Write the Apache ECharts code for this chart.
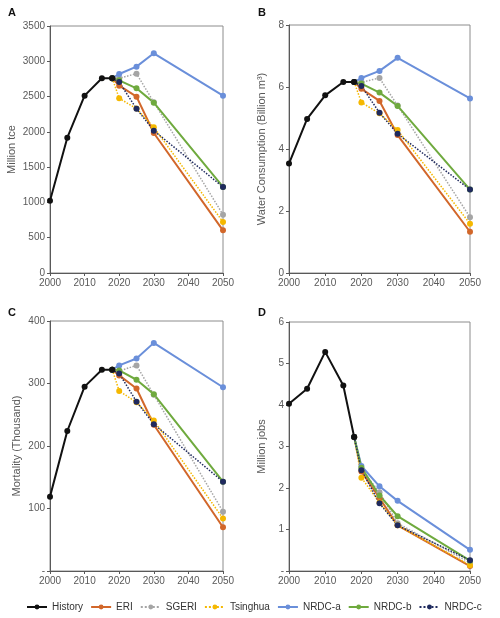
<!DOCTYPE html>
<html><head><meta charset="utf-8">
<script src="https://cdn.jsdelivr.net/npm/echarts@6/dist/echarts.min.js"></script>
<style>html,body{margin:0;padding:0;background:#fff}#c{width:500px;height:618px}</style>
</head><body><div id="c"></div>
<script>
// ---- data ----
var historyYears = [2000, 2005, 2010, 2015, 2018];
var scenarioYears = [2018, 2020, 2025, 2030, 2050];
var seriesNames = ['History', 'ERI', 'SGERI', 'Tsinghua', 'NRDC-a', 'NRDC-b', 'NRDC-c'];
var panelLetters = ['A', 'B', 'C', 'D'];
var yAxisNames = ['Million tce', 'Water Consumption (Billion m\u00b3)', 'Mortality (Thousand)', 'Million jobs'];
var yMax = [3500, 8, 400, 6];
var yInterval = [500, 2, 100, 1];
var xTicks = [2000, 2010, 2020, 2030, 2040, 2050];

// Panel A: coal consumption (Million tce)
var coalHistory = [1025, 1918, 2513, 2760, 2760];
var coalERI = [2760, 2655, 2499, 1984, 605];
var coalSGERI = [2760, 2760, 2825, 2420, 827];
var coalTsinghua = [2760, 2475, 2330, 2064, 723];
var coalNRDCa = [2760, 2820, 2924, 3113, 2513];
var coalNRDCb = [2760, 2730, 2617, 2414, 1219];
var coalNRDCc = [2760, 2706, 2328, 2017, 1219];

// Panel B: water consumption (Billion m3)
var waterHistory = [3.53, 4.97, 5.73, 6.16, 6.16];
var waterERI = [6.16, 5.94, 5.55, 4.45, 1.33];
var waterSGERI = [6.16, 6.15, 6.29, 5.40, 1.80];
var waterTsinghua = [6.16, 5.50, 5.15, 4.61, 1.59];
var waterNRDCa = [6.16, 6.29, 6.52, 6.94, 5.63];
var waterNRDCb = [6.16, 6.11, 5.82, 5.39, 2.69];
var waterNRDCc = [6.16, 6.03, 5.17, 4.49, 2.69];

// Panel C: mortality (Thousand)
var mortHistory = [119, 224, 295, 322, 322];
var mortERI = [322, 313, 292, 234, 70];
var mortSGERI = [322, 320, 329, 282, 95];
var mortTsinghua = [322, 288, 270, 241, 84];
var mortNRDCa = [322, 329, 340, 365, 294];
var mortNRDCb = [322, 321, 306, 283, 143];
var mortNRDCc = [322, 316, 271, 235, 143];

// Panel D: jobs (Million)
var jobsHistory = [4.03, 4.39, 5.28, 4.47, 3.23];
var jobsERI = [3.23, 2.40, 1.76, 1.10, 0.12];
var jobsSGERI = [3.23, 2.45, 1.90, 1.15, 0.20];
var jobsTsinghua = [3.23, 2.25, 1.65, 1.10, 0.14];
var jobsNRDCa = [3.23, 2.53, 2.04, 1.69, 0.51];
var jobsNRDCb = [3.23, 2.49, 1.82, 1.32, 0.25];
var jobsNRDCc = [3.23, 2.43, 1.63, 1.10, 0.26];

var panels = [
  [coalHistory, coalERI, coalSGERI, coalTsinghua, coalNRDCa, coalNRDCb, coalNRDCc],
  [waterHistory, waterERI, waterSGERI, waterTsinghua, waterNRDCa, waterNRDCb, waterNRDCc],
  [mortHistory, mortERI, mortSGERI, mortTsinghua, mortNRDCa, mortNRDCb, mortNRDCc],
  [jobsHistory, jobsERI, jobsSGERI, jobsTsinghua, jobsNRDCa, jobsNRDCb, jobsNRDCc]
];

// ---- styles ----
var colors = ['#111111', '#D2672A', '#A5A5A5', '#F5B800', '#6A8FDA', '#6FAA3E', '#1F2A5E'];
var lineTypes = ['solid', 'solid', 'dotted', 'dotted', 'solid', 'solid', 'dotted'];
var lineWidths = [2, 2, 1.5, 1.5, 2, 2, 1.5];
var font = 'Liberation Sans, Arial, sans-serif';
var grids = [
  {left: 50, top: 26, width: 173, height: 247},
  {left: 289, top: 25, width: 181, height: 248},
  {left: 50, top: 321, width: 173, height: 250},
  {left: 289, top: 322, width: 181, height: 249}
];
var nameGaps = [33, 22, 28, 22];

var option = {
  animation: false,
  backgroundColor: '#fff',
  textStyle: {fontFamily: font},
  grid: grids.map(function (g) {
    return Object.assign({show: true, borderColor: '#8c8c8c', borderWidth: 1, backgroundColor: 'transparent'}, g);
  }),
  title: panelLetters.map(function (t, i) {
    return {text: t, left: i % 2 === 0 ? 3 : 253, top: i < 2 ? 2 : 302,
      textStyle: {fontSize: 11, fontWeight: 'bold', color: '#111', fontFamily: font}};
  }),
  legend: {
    data: seriesNames,
    left: 26, top: 602, width: 474, padding: 0,
    itemWidth: 20, itemHeight: 6, itemGap: 7,
    textStyle: {fontSize: 10, color: '#333', fontFamily: font}
  },
  xAxis: grids.map(function (g, i) {
    return {
      type: 'value', gridIndex: i, min: 2000, max: 2050, interval: 10,
      axisLine: {show: true, lineStyle: {color: '#595959'}},
      axisTick: {show: true, length: 3, inside: false, lineStyle: {color: '#595959'}},
      axisLabel: {fontSize: 10, color: '#595959', margin: 5, fontFamily: font,
        formatter: function (v) { return xTicks.indexOf(v) >= 0 ? String(v) : ''; }},
      splitLine: {show: false}
    };
  }),
  yAxis: grids.map(function (g, i) {
    return {
      type: 'value', gridIndex: i, min: 0, max: yMax[i], interval: yInterval[i],
      name: yAxisNames[i], nameLocation: 'middle', nameGap: nameGaps[i],
      nameTextStyle: {fontSize: 11, color: '#595959', fontFamily: font},
      axisLine: {show: true, lineStyle: {color: '#595959'}},
      axisTick: {show: true, length: 3, lineStyle: {color: '#595959'}},
      axisLabel: {fontSize: 10, color: '#595959', margin: 5, fontFamily: font,
        formatter: function (v) { return (v === 0 && i >= 2) ? '-' : String(v); }},
      splitLine: {show: false}
    };
  }),
  series: []
};

panels.forEach(function (vals, p) {
  vals.forEach(function (arr, s) {
    var yrs = s === 0 ? historyYears : scenarioYears;
    option.series.push({
      name: seriesNames[s], type: 'line', xAxisIndex: p, yAxisIndex: p,
      data: yrs.map(function (y, k) { return [y, arr[k]]; }),
      symbol: 'circle', symbolSize: 6, showSymbol: true,
      itemStyle: {color: colors[s]},
      lineStyle: {color: colors[s], width: lineWidths[s], type: lineTypes[s]},
      z: s === 0 ? 3 : 2
    });
  });
});

var chart = echarts.init(document.getElementById('c'), null, {renderer: 'canvas'});
chart.setOption(option);
</script>
</body></html>
